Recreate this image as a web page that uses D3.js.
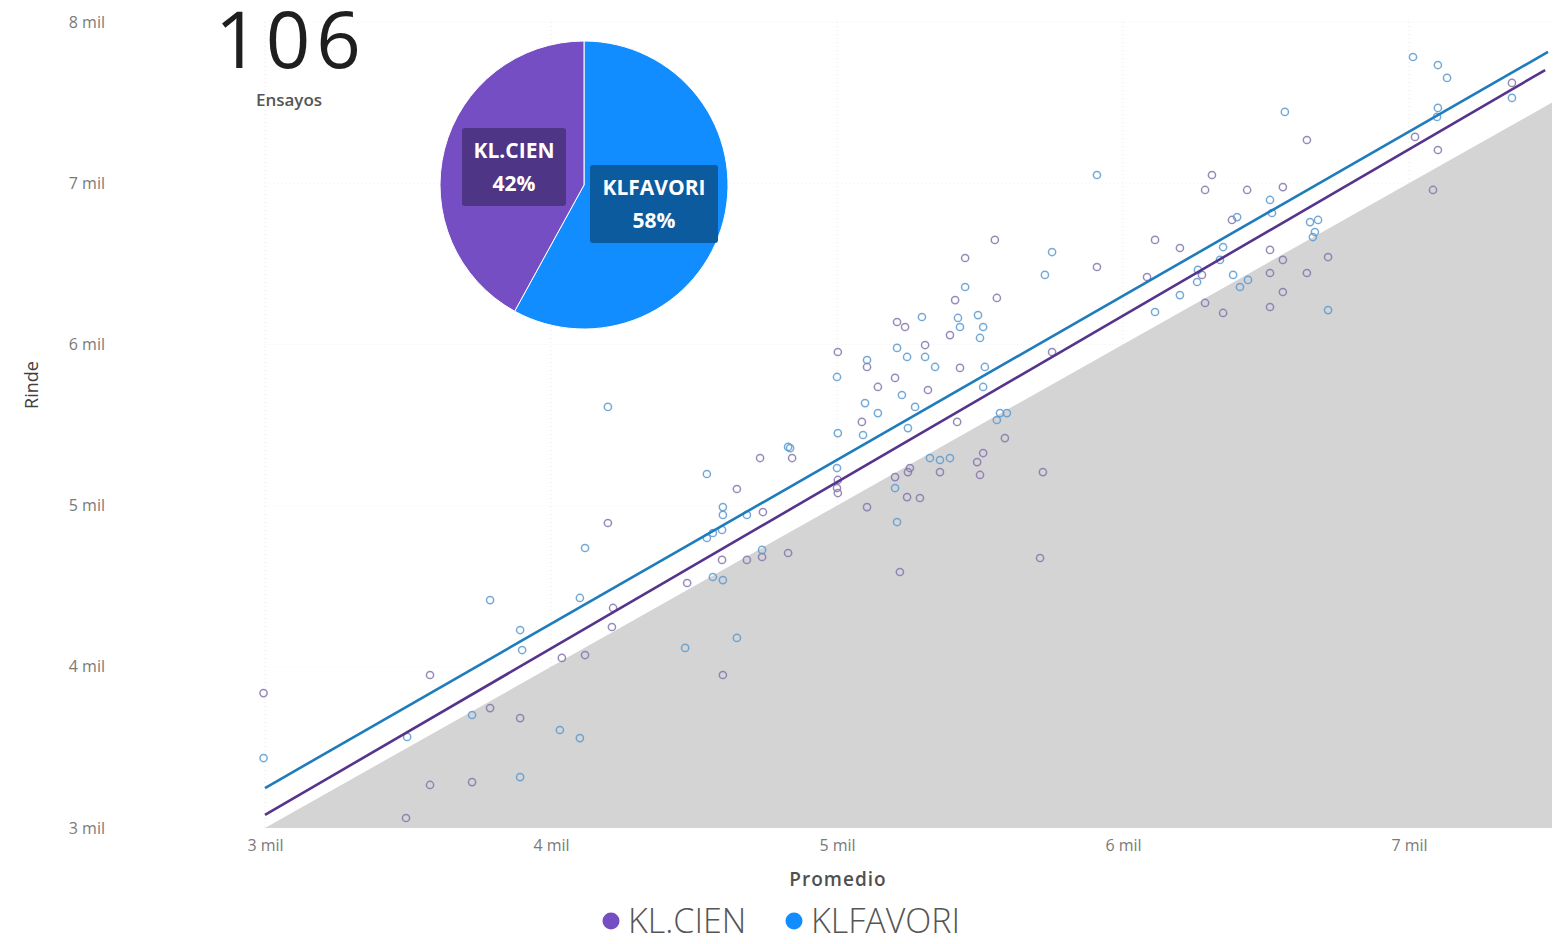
<!DOCTYPE html>
<html><head><meta charset="utf-8">
<script src="https://cdn.jsdelivr.net/npm/d3@7"></script>
<style>
html,body{margin:0;padding:0;background:#fff;}
svg{display:block;font-family:"Open Sans","Noto Sans",sans-serif;}
</style></head>
<body><svg id="c" width="1558" height="944"></svg>
<script>
// ---------- data ----------
const seriesNames = ["KL.CIEN", "KLFAVORI"];
const seriesColors = ["#744EC2", "#118DFF"];
const pieShares = [42, 58];
const totalTrials = 106;
const xTicks = [3000, 4000, 5000, 6000, 7000];
const yTicks = [3000, 4000, 5000, 6000, 7000, 8000];
const xDomain = [3000, 7500];
const yDomain = [3000, 8000];
// trend lines [x, y] endpoints
const trendCien = [[3000, 3081], [7476, 7702]];
const trendFavori = [[3000, 3248], [7486, 7814]];
// diagonal reference (Rinde = Promedio)
const diagonal = [[3000, 3000], [7500, 7500], [7500, 3000]];

// points: [Promedio, Rinde]
const cienPoints = [
 [7360,7622],[7101,7206],[7021,7287],[7084,6958],[6643,7268],[6311,7051],[6287,6958],[6434,6958],[6559,6976],
 [6381,6772],[6112,6648],[6514,6586],[6559,6524],[6717,6542],[6276,6431],[6514,6232],[6350,6195],[6287,6257],
 [6559,6325],[6514,6443],[6643,6443],[6199,6598],[6084,6418],[5909,6480],
 [5552,6648],[5448,6536],[5413,6275],[5559,6288],[5210,6139],[5238,6108],[5395,6058],[5308,5996],[5003,5953],
 [5105,5860],[5430,5854],[5203,5792],[5143,5736],[5318,5717],[5752,5953],[5087,5519],[5420,5519],[5587,5419],
 [4843,5295],[5003,5159],[5000,5109],[5003,5078],[5511,5326],[5490,5270],[5255,5233],[5248,5208],[5203,5177],
 [5360,5208],[5500,5190],[5720,5208],[5245,5053],[5290,5047],[5105,4991],[4829,4706],[5220,4588],[5710,4675],
 [4731,5295],[4650,5103],[4741,4960],[4199,4892],[4598,4663],[4685,4663],[4738,4681],[4476,4520],[4217,4365],
 [4213,4247],[4038,4055],[4119,4073],[4601,3949],[3577,3949],[2995,3837],[3787,3744],[3892,3682],[3577,3267],
 [3724,3285],[3493,3062]
];
const favoriPoints = [
 [7014,7783],[7101,7733],[7133,7653],[7360,7529],[7101,7467],[7098,7411],[6566,7442],[5909,7051],[6514,6896],
 [6521,6815],[6399,6790],[6654,6759],[6682,6772],[6664,6666],[6671,6697],[6350,6604],[6339,6524],[6385,6431],
 [6437,6400],[6409,6356],[6259,6387],[6262,6462],[6199,6306],[6112,6201],[6717,6213],
 [5752,6573],[5727,6431],[5448,6356],[5297,6170],[5423,6164],[5430,6108],[5493,6182],[5511,6108],[5500,6040],
 [5210,5978],[5245,5922],[5308,5922],[5105,5903],[5343,5860],[5517,5860],[5000,5798],[5227,5686],[5098,5636],
 [5143,5574],[5511,5736],[5570,5574],[5594,5574],[5273,5612],[5003,5450],[5091,5438],[5248,5481],[5559,5531],
 [4836,5357],[5000,5233],[5325,5295],[5360,5283],[5395,5295],[5203,5109],[5210,4898],
 [4829,5364],[4545,5196],[4601,4991],[4601,4942],[4685,4942],[4119,4737],[4545,4799],[4566,4830],[4598,4849],
 [4738,4725],[4566,4557],[4601,4538],[4101,4427],[4650,4179],[4469,4117],[4199,5612],[3787,4414],[3892,4228],
 [3899,4104],[3724,3701],[4031,3608],[4101,3558],[3497,3565],[2995,3434],[3892,3316]
];

// ---------- drawing ----------
const svg = d3.select("#c");
const x = d3.scaleLinear().domain(xDomain).range([265, 1552]);
const y = d3.scaleLinear().domain(yDomain).range([828, 22]);
const fmt = d => (d / 1000) + " mil";

// faint grid
const grid = svg.append("g");
grid.selectAll("line.v").data(xTicks).join("line")
  .attr("x1", d => x(d)).attr("x2", d => x(d)).attr("y1", y(8000)).attr("y2", y(3000))
  .attr("stroke", "#e6e6e6").attr("stroke-width", 1).attr("stroke-dasharray", "1,3");
grid.selectAll("line.h").data(yTicks).join("line")
  .attr("x1", x(3000)).attr("x2", x(7500)).attr("y1", d => y(d)).attr("y2", d => y(d))
  .attr("stroke", "#f0f0f0").attr("stroke-width", 1).attr("stroke-dasharray", "1,3");

// gray diagonal area
svg.append("path")
  .attr("d", d3.line().x(d => x(d[0])).y(d => y(d[1]))(diagonal) + "Z")
  .attr("fill", "#d4d4d4");

// axes (labels only)
const xAxis = svg.append("g").attr("transform", `translate(0,${y(3000)})`)
  .call(d3.axisBottom(x).tickValues(xTicks).tickFormat(fmt).tickSize(0).tickPadding(12));
const yAxis = svg.append("g").attr("transform", `translate(105,0)`)
  .call(d3.axisLeft(y).tickValues(yTicks).tickFormat(fmt).tickSize(0).tickPadding(0));
[xAxis, yAxis].forEach(a => {
  a.select(".domain").remove();
  a.selectAll("text").attr("fill", "#7a7a7a").style("font-size", "16px")
   .style("font-family", "'Open Sans','Noto Sans',sans-serif");
});
yAxis.selectAll("text").attr("dy", "0.32em");

// axis titles
svg.append("text").attr("x", 838).attr("y", 886).attr("text-anchor", "middle")
  .attr("fill", "#505050").style("font-size", "19px").style("font-weight", 600)
  .style("letter-spacing", "1px").text("Promedio");
svg.append("text").attr("transform", "translate(38,385) rotate(-90)").attr("text-anchor", "middle")
  .attr("fill", "#404040").style("font-size", "18px").text("Rinde");

// points
const pts = svg.append("g");
[[cienPoints, 0], [favoriPoints, 1]].forEach(([arr, i]) => {
  pts.selectAll(null).data(arr).join("circle")
    .attr("cx", d => x(d[0])).attr("cy", d => y(d[1])).attr("r", 3.6)
    .attr("fill", "none").attr("stroke", i === 0 ? "#8574ab" : "#5a9ad0")
    .attr("stroke-opacity", 0.85).attr("stroke-width", 1.5);
});

// trend lines
const ln = d3.line().x(d => x(d[0])).y(d => y(d[1]));
svg.append("path").attr("d", ln(trendCien)).attr("stroke", "#56338c").attr("stroke-width", 2.6).attr("fill", "none");
svg.append("path").attr("d", ln(trendFavori)).attr("stroke", "#1f7cbc").attr("stroke-width", 2.6).attr("fill", "none");

// KPI card
svg.append("text").attr("x", 291).attr("y", 68).attr("text-anchor", "middle")
  .attr("fill", "#1f1f1f").style("font-size", "78px").style("letter-spacing", "6px")
  .text(totalTrials);
svg.append("text").attr("x", 289).attr("y", 106).attr("text-anchor", "middle")
  .attr("fill", "#555").style("font-size", "17px").style("font-weight", 600).text("Ensayos");

// pie
const pieG = svg.append("g").attr("transform", "translate(584,185)");
const pieData = d3.pie().sort(null).value(d => d.v)
  ([{n: seriesNames[1], v: pieShares[1], c: seriesColors[1]}, {n: seriesNames[0], v: pieShares[0], c: seriesColors[0]}]);
const arc = d3.arc().innerRadius(0).outerRadius(144);
pieG.selectAll("path").data(pieData).join("path").attr("d", arc)
  .attr("fill", d => d.data.c).attr("stroke", "#fff").attr("stroke-width", 1);

// pie labels
const labels = [
  {name: seriesNames[0], pct: pieShares[0], cx: 514, top: 128, w: 104, h: 78, bg: "#4f3585"},
  {name: seriesNames[1], pct: pieShares[1], cx: 654, top: 165, w: 128, h: 78, bg: "#0b5b9e"}
];
labels.forEach(l => {
  svg.append("rect").attr("x", l.cx - l.w / 2).attr("y", l.top).attr("width", l.w).attr("height", l.h)
    .attr("rx", 3).attr("fill", l.bg);
  svg.append("text").attr("x", l.cx).attr("y", l.top + 30).attr("text-anchor", "middle")
    .attr("fill", "#fff").style("font-size", "21px").style("font-weight", 700).text(l.name);
  svg.append("text").attr("x", l.cx).attr("y", l.top + 63).attr("text-anchor", "middle")
    .attr("fill", "#fff").style("font-size", "21px").style("font-weight", 700).text(l.pct + "%");
});

// legend
const leg = svg.append("g");
const legItems = [{n: seriesNames[0], c: seriesColors[0], cx: 611}, {n: seriesNames[1], c: seriesColors[1], cx: 794}];
legItems.forEach(it => {
  leg.append("circle").attr("cx", it.cx).attr("cy", 921).attr("r", 8.5).attr("fill", it.c);
  leg.append("text").attr("x", it.cx + 17).attr("y", 933).attr("fill", "#555")
    .style("font-size", "34px").style("font-weight", 300).text(it.n);
});
</script></body></html>
